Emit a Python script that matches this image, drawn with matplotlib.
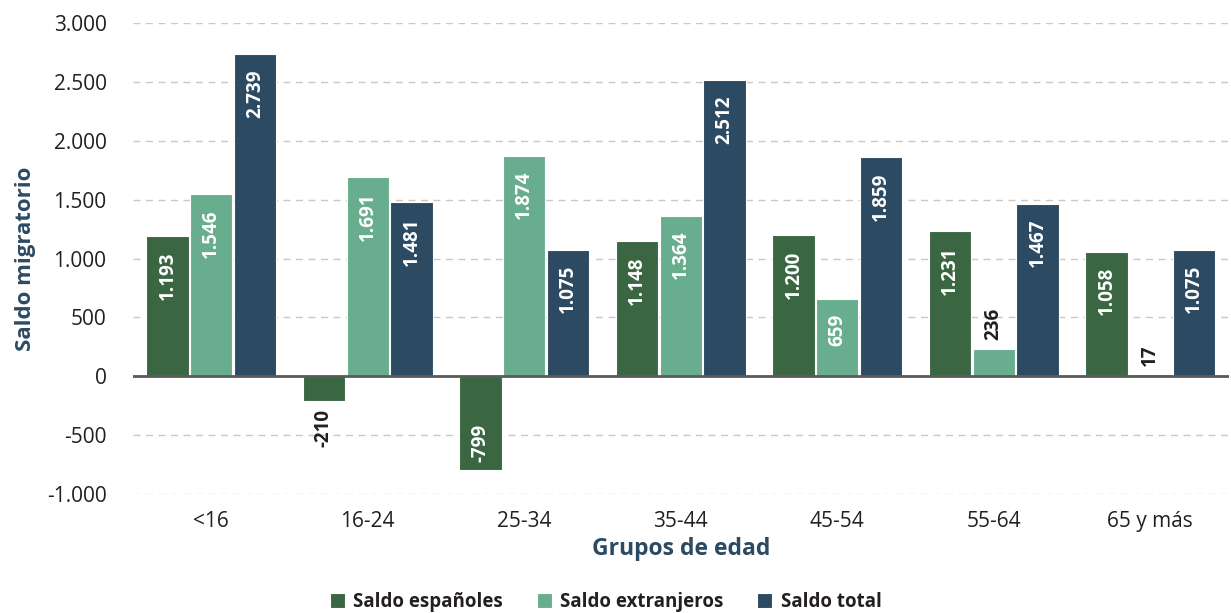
import numpy as np
import matplotlib.pyplot as plt

plt.rcParams['font.family'] = ['Open Sans', 'DejaVu Sans']

grupos = ["<16", "16-24", "25-34", "35-44", "45-54", "55-64", "65 y más"]
saldo_espanoles = [1193, -210, -799, 1148, 1200, 1231, 1058]
saldo_extranjeros = [1546, 1691, 1874, 1364, 659, 236, 17]
saldo_total = [2739, 1481, 1075, 2512, 1859, 1467, 1075]

series = [
    ("Saldo españoles", saldo_espanoles, "#3b6642"),
    ("Saldo extranjeros", saldo_extranjeros, "#68ae8e"),
    ("Saldo total", saldo_total, "#2c4a62"),
]


def fmt(v):
    return f"{v:,}".replace(",", ".")


fig = plt.figure(figsize=(12.31, 6.13), dpi=100)
ax = fig.add_axes([0.108, 0.194, 0.89, 0.7685])

x = np.arange(len(grupos))
width = 0.27
offsets = [-0.28, 0, 0.28]

for (name, vals, color), off in zip(series, offsets):
    bars = ax.bar(x + off, vals, width, color=color, label=name,
                  edgecolor="white", linewidth=0.8, zorder=3)
    for b, v in zip(bars, vals):
        cx = b.get_x() + b.get_width() / 2
        txt = fmt(v)
        if abs(v) >= 500:
            # label inside the bar end
            dy, va = (-11, "top") if v > 0 else (6, "bottom")
            ax.annotate(txt, (cx, v), xytext=(0, dy), textcoords="offset points",
                        rotation=90, ha="center", va=va, color="white",
                        fontsize=13.5, fontweight="bold", zorder=4)
        else:
            dy, va = (6, "bottom") if v >= 0 else (-6, "top")
            ax.annotate(txt, (cx, v), xytext=(0, dy), textcoords="offset points",
                        rotation=90, ha="center", va=va, color="#231f20",
                        fontsize=13.5, fontweight="bold", zorder=4)

ax.set_xlim(-0.5, len(grupos) - 0.5)
ax.set_ylim(-1000, 3000)
ax.set_yticks(np.arange(-1000, 3001, 500))
ax.set_yticklabels([fmt(t) for t in np.arange(-1000, 3001, 500)])
ax.set_xticks(x)
ax.set_xticklabels(grupos)
ax.tick_params(axis="both", length=0, labelsize=15, colors="#231f20")
ax.tick_params(axis="y", pad=19)
ax.tick_params(axis="x", pad=12)

ax.yaxis.grid(True, color="#c8c8c8", linestyle=(0, (5, 4)), linewidth=1, zorder=0)
ax.axhline(0, color="#5a5a5a", linewidth=2, zorder=5)
for s in ax.spines.values():
    s.set_visible(False)

ax.set_xlabel("Grupos de edad", fontsize=16.5, fontweight="bold", color="#2c4a62", labelpad=4)
ax.set_ylabel("Saldo migratorio", fontsize=16, fontweight="bold", color="#2c4a62", labelpad=8)

leg = fig.legend(loc="lower center", bbox_to_anchor=(0.492, -0.026), ncol=3, frameon=False,
                 prop={"weight": "bold", "size": 13.5}, handlelength=0.8, handleheight=0.8,
                 columnspacing=1.8, handletextpad=0.45)
for t in leg.get_texts():
    t.set_color("#231f20")

fig.savefig("out.png", dpi=100)
